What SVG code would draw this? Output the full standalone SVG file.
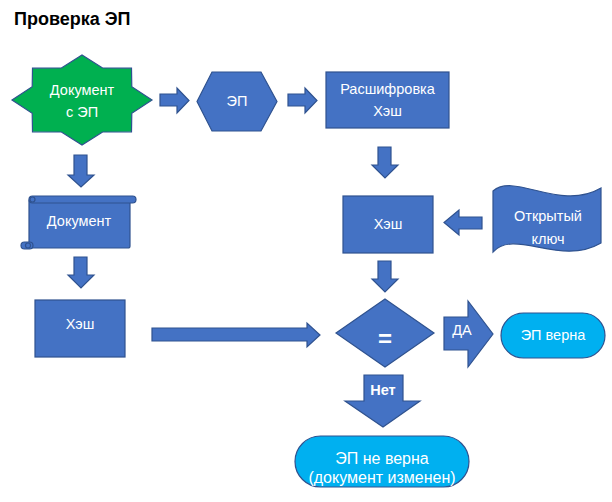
<svg xmlns="http://www.w3.org/2000/svg" width="612" height="502" viewBox="0 0 612 502">
<style>
.b{fill:#4472C4;stroke:#2F528F;stroke-width:1.2}
.c{fill:#00B0F0;stroke:#2F528F;stroke-width:1.2}
.g{fill:#00B050;stroke:#2F528F;stroke-width:1.2}
.t{font-family:"Liberation Sans",Arial,sans-serif;font-size:14.5px;fill:#fff;text-anchor:middle}
</style>
<rect width="612" height="502" fill="#fff"/>
<text x="14" y="25" font-family="Liberation Sans,Arial,sans-serif" font-size="18" font-weight="bold" fill="#000">Проверка ЭП</text>
<g id="connectors">
<polygon class="b" points="160,94 177,94 177,88 189,100.5 177,113 177,106 160,106"/>
<polygon class="b" points="288,94 305,94 305,88 317,100.5 305,113 305,106 288,106"/>
<polygon class="b" points="378,147 391,147 391,165 398,165 385,178 372,165 378,165"/>
<polygon class="b" points="482,217 459,217 459,210 444,222.5 459,235 459,229 482,229"/>
<polygon class="b" points="378,261 391,261 391,279 398,279 385,292 372,279 378,279"/>
<polygon class="b" points="74,155 87,155 87,175 94,175 81,187 68,175 74,175"/>
<polygon class="b" points="74,257 87,257 87,275 94,275 81,288 68,275 74,275"/>
<polygon class="b" points="152,328 307,328 307,323 320,335 307,347 307,341 152,341"/>
<g id="yes"><polygon class="b" points="444,317 468,317 468,301 493,334 468,367 468,350 444,350"/>
<text class="t" x="462" y="335">ДА</text></g>
<g id="no"><polygon class="b" points="364,375 403,375 403,401 420,401 383,427 345,401 364,401"/>
<text class="t" x="383" y="395" font-weight="bold">Нет</text></g>
</g>
<g id="doc-ep">
<polygon class="g" points="152,100 131.8,113.3 131.5,131.8 102.6,132 82,145 61.4,132 32.5,131.8 32.2,113.3 12,100 32.2,86.7 32.5,68.2 61.4,68 82,55 102.6,68 131.5,68.2 131.8,86.7"/>
<text class="t" x="82" y="95">Документ</text>
<text class="t" x="82" y="117">с ЭП</text>
</g>
<g id="ep">
<polygon class="b" points="212,72 261,72 277,101.5 261,131 212,131 197,101.5"/>
<text class="t" x="237" y="106">ЭП</text>
</g>
<g id="decrypt">
<rect class="b" x="326" y="72" width="123" height="56"/>
<text class="t" x="387.5" y="94">Расшифровка</text>
<text class="t" x="387.5" y="116">Хэш</text>
</g>
<g id="hash-right">
<rect class="b" x="343" y="196" width="90" height="57"/>
<text class="t" x="388" y="229">Хэш</text>
</g>
<g id="public-key">
<path class="b" d="M493,191 C515,172 560,212 601,188 L601,243 C560,267 515,228 493,252 Z"/>
<text class="t" x="548" y="221">Открытый</text>
<text class="t" x="548" y="244">ключ</text>
</g>
<g id="document">
<rect class="b" x="29" y="199" width="101" height="49" rx="2"/>
<rect class="b" x="29" y="196" width="107" height="7" rx="3.5"/>
<circle class="b" cx="32.5" cy="199.5" r="2.5"/>
<rect class="b" x="21" y="242" width="12" height="7" rx="3.5"/>
<circle class="b" cx="28" cy="245.5" r="2.5"/>
<text class="t" x="79" y="226">Документ</text>
</g>
<g id="hash-left">
<rect class="b" x="35" y="300" width="90" height="57"/>
<text class="t" x="80" y="329">Хэш</text>
</g>
<g id="compare">
<polygon class="b" points="385,299 434,333 385,367 336,333"/>
<text x="385" y="347" font-family="Liberation Sans,Arial,sans-serif" font-size="24" font-weight="bold" fill="#fff" text-anchor="middle">=</text>
</g>
<g id="valid">
<rect class="c" x="501" y="313" width="104" height="45" rx="22.5"/>
<text class="t" x="553" y="340">ЭП верна</text>
</g>
<g id="invalid">
<rect class="c" x="295" y="436" width="174" height="51" rx="25.5"/>
<text x="382" y="464" font-family="Liberation Sans,Arial,sans-serif" font-size="16" fill="#fff" text-anchor="middle">ЭП не верна</text>
<text x="382" y="483" font-family="Liberation Sans,Arial,sans-serif" font-size="16" fill="#fff" text-anchor="middle">(документ изменен)</text>
</g>
</svg>
